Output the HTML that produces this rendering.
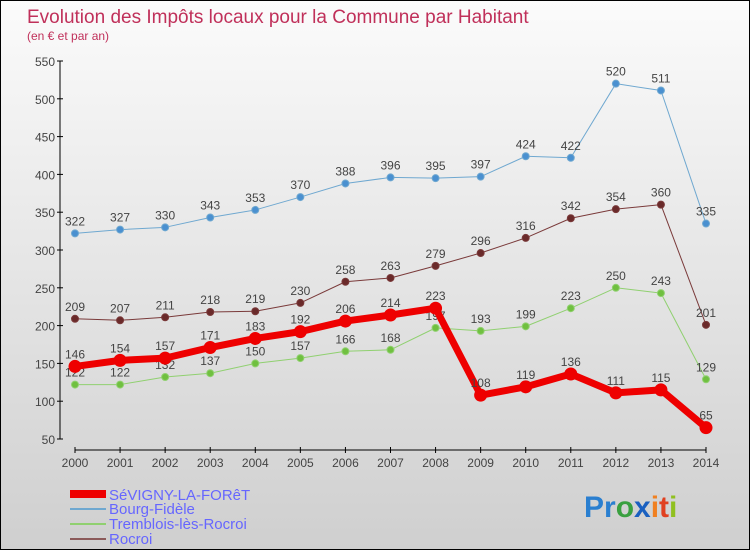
<!DOCTYPE html>
<html><head><meta charset="utf-8"><style>
html,body{margin:0;padding:0}
body{width:750px;height:550px;overflow:hidden;font-family:"Liberation Sans",sans-serif}
#c{position:absolute;left:0;top:0;width:748px;height:548px;border:1px solid #000;background:linear-gradient(#fbfbfb,#cfcfcf)}
</style></head><body>
<div id="c">
<svg id="s" width="748" height="548" xmlns="http://www.w3.org/2000/svg">
<text x="26" y="22" font-size="19" fill="#c0305a">Evolution des Impôts locaux pour la Commune par Habitant</text>
<text x="26" y="39" font-size="12" fill="#c0305a">(en € et par an)</text>
<g id="axes"></g><g id="series"></g>
<g>
<rect x="69" y="489" width="36" height="8" fill="#e00"/>
<text x="108" y="499" font-size="15" fill="#6666ff">SéVIGNY-LA-FORêT</text>
<rect x="69" y="507" width="36" height="2" fill="#6fa8d0"/>
<text x="108" y="513" font-size="15" fill="#6666ff">Bourg-Fidèle</text>
<rect x="69" y="522" width="36" height="2" fill="#90d070"/>
<text x="108" y="528" font-size="15" fill="#6666ff">Tremblois-lès-Rocroi</text>
<rect x="69" y="537" width="36" height="2" fill="#8b5a5a"/>
<text x="108" y="543" font-size="15" fill="#6666ff">Rocroi</text>
</g>
<g font-size="30" font-weight="bold">
<text x="583" y="516"><tspan fill="#2a7fd0">Pr</tspan><tspan fill="#3aa040">o</tspan><tspan fill="#1a60c0">x</tspan><tspan fill="#f08020">i</tspan><tspan fill="#e04020">t</tspan><tspan fill="#90c020">i</tspan></text>
</g>
</svg></div>
<script>
const years=[2000,2001,2002,2003,2004,2005,2006,2007,2008,2009,2010,2011,2012,2013,2014];
const yTicks=[50,100,150,200,250,300,350,400,450,500,550];
const sevigny=[146,154,157,171,183,192,206,214,223,108,119,136,111,115,65];
const bourg=[322,327,330,343,353,370,388,396,395,397,424,422,520,511,335];
const tremblois=[122,122,132,137,150,157,166,168,197,193,199,223,250,243,129];
const rocroi=[209,207,211,218,219,230,258,263,279,296,316,342,354,360,201];
const NS="http://www.w3.org/2000/svg";
const X=i=>74+i*(631/14);
const Y=v=>438-(v-50)*(378/500);
function mk(t,a,p){const e=document.createElementNS(NS,t);for(const k in a)e.setAttribute(k,a[k]);p.appendChild(e);return e;}
const ax=document.getElementById('axes');
let e=mk('line',{x1:59,y1:Y(550),x2:59,y2:Y(50),stroke:'#000'},ax);

yTicks.forEach(v=>{mk('line',{x1:56,x2:62,y1:Y(v),y2:Y(v),stroke:'#000'},ax);
const t=mk('text',{x:54,y:Y(v)+5,'text-anchor':'end','font-size':12,fill:'#444'},ax);t.textContent=v;
});
e=mk('line',{x1:X(0),y1:449,x2:X(14),y2:449,stroke:'#000'},ax);

years.forEach((y,i)=>{mk('line',{x1:X(i),x2:X(i),y1:446,y2:452,stroke:'#000'},ax);
const t=mk('text',{x:X(i),y:466,'text-anchor':'middle','font-size':12,fill:'#444'},ax);t.textContent=y;
});
const sg=document.getElementById('series');
function draw(vals,name,col,dot,w,r){
const g=mk('g',{},sg);
const p=mk('polyline',{points:vals.map((v,i)=>X(i)+','+Y(v)).join(' '),fill:'none',stroke:col,'stroke-width':w,'stroke-linejoin':'round'},g);

vals.forEach((v,i)=>{const c=mk('circle',{cx:X(i),cy:Y(v),r:r,fill:dot,stroke:col,'stroke-width':1},g);

const t=mk('text',{x:X(i),y:Y(v)-8,'text-anchor':'middle','font-size':12,fill:'#444'},g);t.textContent=v;
});}
draw(tremblois,'tremblois','#90d070','#70c040',1,3.5);
draw(rocroi,'rocroi','#7a3a3a','#6a2a2a',1,3.5);
draw(bourg,'bourg','#6fa8d0','#4a90d0',1,3.5);
draw(sevigny,'sevigny','#ee0000','#ee0000',7,6);
</script></body></html>
